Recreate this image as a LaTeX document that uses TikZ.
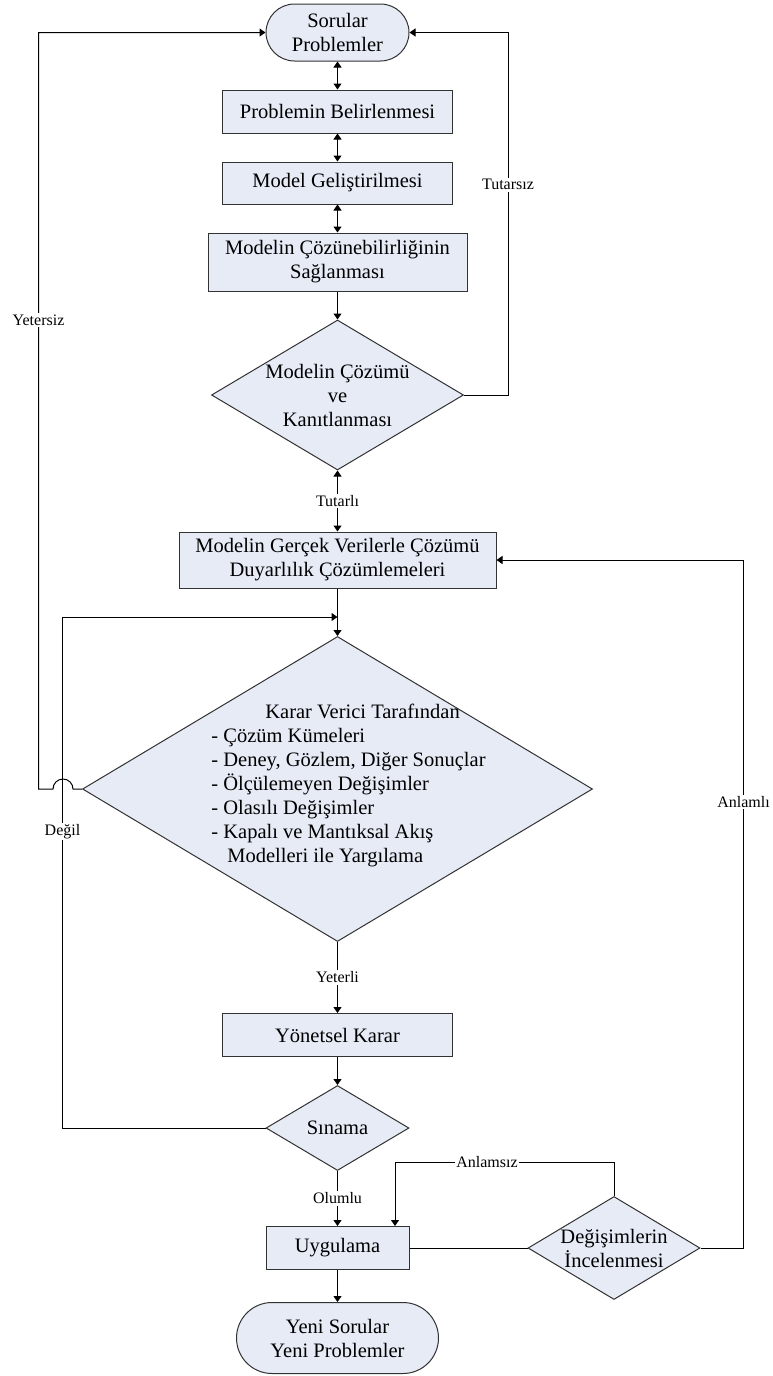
\documentclass[tikz,border=0pt]{standalone}
\usepackage{fontspec}
\setmainfont{Liberation Serif}
\usetikzlibrary{arrows.meta,shapes.geometric,shapes.misc}

\definecolor{boxfill}{RGB}{230,235,246}
\definecolor{boxline}{RGB}{50,50,50}
\newcommand{\boxfont}{\fontsize{20.5pt}{24pt}\selectfont}
\newcommand{\edgefont}{\fontsize{16pt}{19pt}\selectfont}

\tikzset{
    process/.style={draw=boxline, line width=1pt, fill=boxfill, inner sep=0pt, font=\boxfont, align=center},
    decision/.style={diamond, draw=boxline, line width=1pt, fill=boxfill, inner sep=0pt},
    terminal/.style={rounded rectangle, draw=boxline, line width=1pt, fill=boxfill, inner sep=0pt, font=\boxfont, align=center},
    dtext/.style={font=\boxfont, align=center, inner sep=0pt},
    flow/.style={line width=1pt, -{Triangle[length=6pt,width=8pt]}},
    twoway/.style={line width=1pt, {Triangle[length=6pt,width=8pt]}-{Triangle[length=6pt,width=8pt]}},
    lbl/.style={fill=white, inner sep=1.5pt, font=\edgefont}
}

\begin{document}
\begin{tikzpicture}[x=1pt, y=-1pt]
    \useasboundingbox (0,0) rectangle (772,1376);

    % main column
    \node[terminal, minimum width=143pt, minimum height=57pt] (start) at (337.5,32.5) {Sorular\\Problemler};
    \node[process, minimum width=230pt, minimum height=43pt] (define) at (337.5,111.5) {Problemin Belirlenmesi};
    \node[process, minimum width=230pt, minimum height=42pt] (model) at (337.5,183) {Model Geliştirilmesi};
    \node[process, minimum width=259pt, minimum height=58pt] (solvable) at (337.5,262) {Modelin Çözünebilirliğinin\\Sağlanması};
    \node[decision, minimum width=252pt, minimum height=150pt,
          label={[dtext]center:Modelin Çözümü\\ve\\Kanıtlanması}] (solve) at (337.5,395) {};
    \node[process, minimum width=317pt, minimum height=56pt] (real) at (337.5,560) {Modelin Gerçek Verilerle Çözümü\\Duyarlılık Çözümlemeleri};
    \node[decision, minimum width=510pt, minimum height=305pt,
          label={[dtext, align=left, xshift=11pt, yshift=4pt]center:\hspace*{54pt}Karar Verici Tarafından\\
              - Çözüm Kümeleri\\
              - Deney, Gözlem, Diğer Sonuçlar\\
              - Ölçülemeyen Değişimler\\
              - Olasılı Değişimler\\
              - Kapalı ve Mantıksal Akış\\
              \hspace*{16pt}Modelleri ile Yargılama}] (judge) at (337.5,789) {};
    \node[process, minimum width=230pt, minimum height=43pt] (decide) at (337.5,1035) {Yönetsel Karar};
    \node[decision, minimum width=143pt, minimum height=85pt,
          label={[dtext]center:Sınama}] (test) at (337.5,1128) {};
    \node[process, minimum width=143pt, minimum height=43pt] (apply) at (337.5,1248) {Uygulama};
    \node[decision, minimum width=172pt, minimum height=103pt,
          label={[dtext]center:Değişimlerin\\İncelenmesi}] (review) at (614,1248) {};
    \node[terminal, minimum width=202pt, minimum height=71pt] (finish) at (337.5,1338) {Yeni Sorular\\Yeni Problemler};

    \coordinate (merge) at (337.5,617);

    % connectors
    \draw[twoway] (start.south) -- (define.north);
    \draw[twoway] (define.south) -- (model.north);
    \draw[twoway] (model.south) -- (solvable.north);
    \draw[flow] (solvable.south) -- (solve.north);
    \draw[flow] (solve.east) -- ++(44,0) |- node[lbl, pos=0.29] {Tutarsız} (start.east);
    \draw[twoway] (solve.south) -- node[lbl] {Tutarlı} (real.north);
    \draw[flow] (real.south) -- (judge.north);
    \draw[flow] (judge.west) -- ++(-9,0) arc[start angle=0, end angle=180, radius=10pt]
        -- ++(-14.5,0) |- node[lbl, pos=0.31] {Yetersiz} (start.west);
    \draw[flow] (judge.south) -- node[lbl] {Yeterli} (decide.north);
    \draw[flow] (decide.south) -- (test.north);
    \draw[flow] (test.west) -- ++(-203,0) |- node[lbl, pos=0.29] {Değil} (merge);
    \draw[flow] (test.south) -- node[lbl] {Olumlu} (apply.north);
    \draw[flow] (apply.south) -- (finish.north);
    \draw[line width=1pt] (apply.east) -- (review.west);
    \draw[flow] (review.north) -- ++(0,-34) -| node[lbl, pos=0.29] {Anlamsız} ([xshift=57.5pt]apply.north);
    \draw[flow] (review.east) -- ++(43,0) |- node[lbl, pos=0.324] {Anlamlı} (real.east);
\end{tikzpicture}
\end{document}
